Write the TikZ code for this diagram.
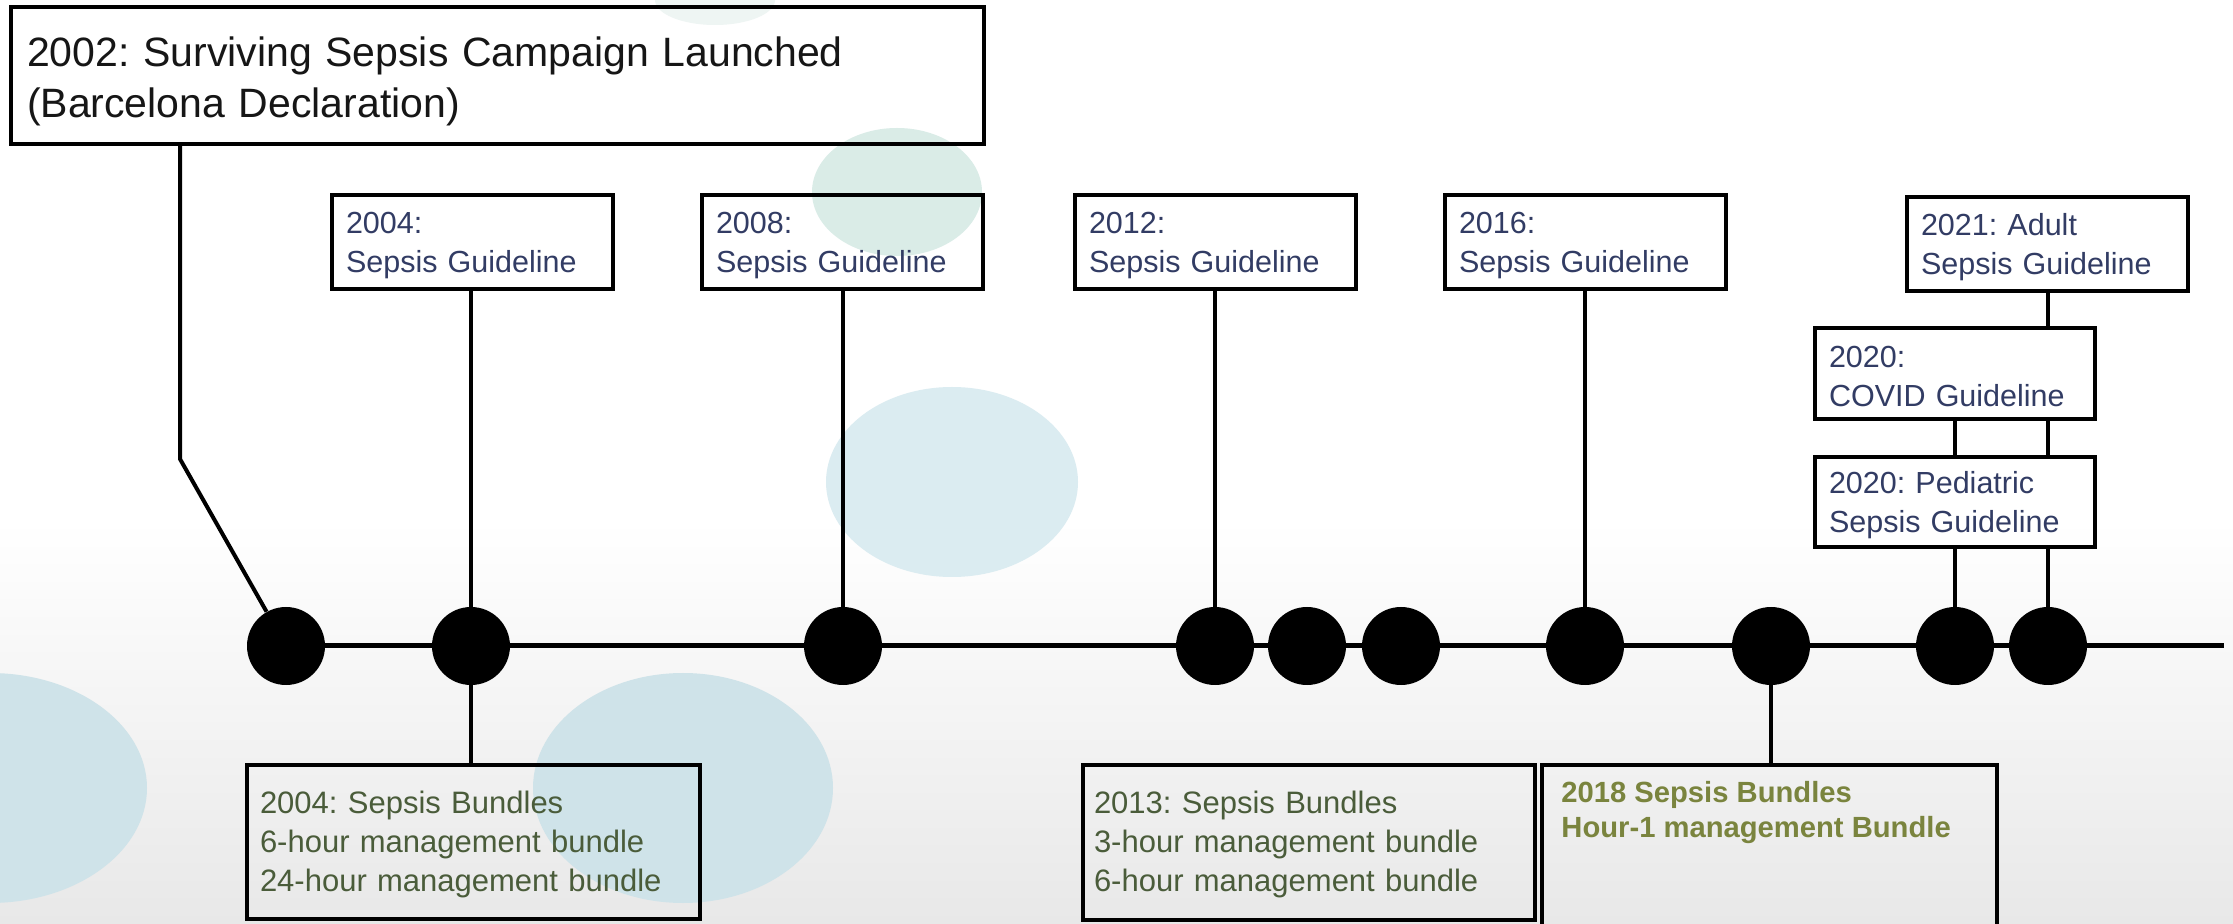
\documentclass[tikz,border=0pt]{standalone}
\usepackage{fontspec}
\setmainfont{Liberation Sans}
\usetikzlibrary{calc}
\definecolor{navy}{RGB}{50,60,100}
\definecolor{titletext}{RGB}{22,22,22}
\definecolor{olivetext}{RGB}{74,92,58}
\definecolor{olivebold}{RGB}{122,132,62}
\definecolor{mint}{RGB}{218,236,231}
\definecolor{faintmint}{RGB}{238,245,243}
\definecolor{pale}{RGB}{219,236,241}
\definecolor{paleb}{RGB}{207,227,233}
\definecolor{floor}{RGB}{232,232,232}
\newcommand\boxstrut[1]{\rule{0pt}{#1}}
\frenchspacing
\begin{document}
\begin{tikzpicture}[x=0.5pt,y=-0.5pt,
  box/.style={draw, line width=2pt, rectangle, outer sep=0pt, inner ysep=0pt, anchor=north west, align=left},
  gbox/.style={box, text width=126.5pt, inner xsep=7pt, minimum height=47pt, text=navy, font={\fontsize{15.25}{19.5}\selectfont}},
  bbox/.style={box, minimum height=77pt, text=olivetext, font={\fontsize{15.5}{19.5}\selectfont}},
  dot/.style={circle, fill=black, minimum size=39pt, inner sep=0pt},
  conn/.style={line width=2pt},
  axisline/.style={line width=2.5pt}]
\path[use as bounding box] (0,0) rectangle (2233,924);
\clip (0,0) rectangle (2233,924);
% background
\fill[white] (0,0) rectangle (2233,924);
\shade[top color=white, bottom color=floor] (0,520) rectangle (2233,924);
\fill[faintmint] (715,0) ellipse [x radius=60, y radius=25];
\fill[mint] (897,192) ellipse [x radius=85, y radius=64];
\fill[pale] (952,482) ellipse [x radius=126, y radius=95];
\fill[paleb] (-10,788) ellipse [x radius=157, y radius=115];
\fill[paleb] (683,788) ellipse [x radius=150, y radius=115];
% title box
\node[box, text width=470.5pt, inner xsep=8pt, minimum height=68.5pt, text=titletext, font={\fontsize{20.5}{25.5}\selectfont}] (title) at (11,7) {\boxstrut{20.4pt}2002: Surviving Sepsis Campaign Launched\\(Barcelona Declaration)};
% guideline boxes
\node[gbox] (g2004) at (332,195) {\boxstrut{13.7pt}2004:\\Sepsis Guideline};
\node[gbox] (g2008) at (702,195) {\boxstrut{13.7pt}2008:\\Sepsis Guideline};
\node[gbox] (g2012) at (1075,195) {\boxstrut{13.7pt}2012:\\Sepsis Guideline};
\node[gbox] (g2016) at (1445,195) {\boxstrut{13.7pt}2016:\\Sepsis Guideline};
\node[gbox] (g2021) at (1907,197) {\boxstrut{13.7pt}2021: Adult\\Sepsis Guideline};
\node[gbox, text width=126pt, minimum height=45.5pt] (covid) at (1815,328) {\boxstrut{13.7pt}2020:\\COVID Guideline};
\node[gbox, text width=126pt, minimum height=45pt] (ped) at (1815,457) {\boxstrut{13.7pt}2020: Pediatric\\Sepsis Guideline};
% bundle boxes
\node[bbox, text width=213.5pt, inner xsep=6.5pt] (b2004) at (247,765) {\boxstrut{13.25pt}2004: Sepsis Bundles\\6-hour management bundle\\24-hour management bundle};
\node[bbox, text width=215pt, inner xsep=5.5pt, minimum height=77.5pt] (b2013) at (1083,765) {\boxstrut{13.25pt}2013: Sepsis Bundles\\3-hour management bundle\\6-hour management bundle};
\node[box, minimum width=227.5pt, minimum height=110pt] (b2018) at (1542,765) {};
\node[anchor=north west, inner sep=0pt, align=left, text=olivebold, font={\bfseries\fontsize{14.6}{17.5}\selectfont}] (t2018) at (1561,781) {2018 Sepsis Bundles\\Hour-1 management Bundle};
% dots
\foreach \n/\x in {1/286,2/471,3/843,4/1215,5/1307,6/1401,7/1585,8/1771,9/1955,10/2048}
  \node[dot] (d\n) at (\x,646) {};
% timeline
\coordinate (tend) at (2224,646);
\foreach \a/\b in {1/2,2/3,3/4,4/5,5/6,6/7,7/8,8/9,9/10}
  \draw[axisline] (d\a) -- (d\b);
\draw[axisline] (d10) -- (tend);
% connectors
\coordinate (bend) at (180,459);
\draw[conn] (title.south -| bend) -- (bend) -- (d1);
\draw[conn] (d2 |- g2004.south) -- (d2);
\draw[conn] (d3 |- g2008.south) -- (d3);
\draw[conn] (d4 |- g2012.south) -- (d4);
\draw[conn] (d7 |- g2016.south) -- (d7);
\draw[conn] (d10 |- g2021.south) -- (d10 |- covid.north);
\draw[conn] (d9 |- covid.south) -- (d9 |- ped.north);
\draw[conn] (d10 |- covid.south) -- (d10 |- ped.north);
\draw[conn] (d9 |- ped.south) -- (d9);
\draw[conn] (d10 |- ped.south) -- (d10);
\draw[conn] (d2) -- (d2 |- b2004.north);
\draw[conn] (d8) -- (d8 |- b2018.north);
\end{tikzpicture}
\end{document}
